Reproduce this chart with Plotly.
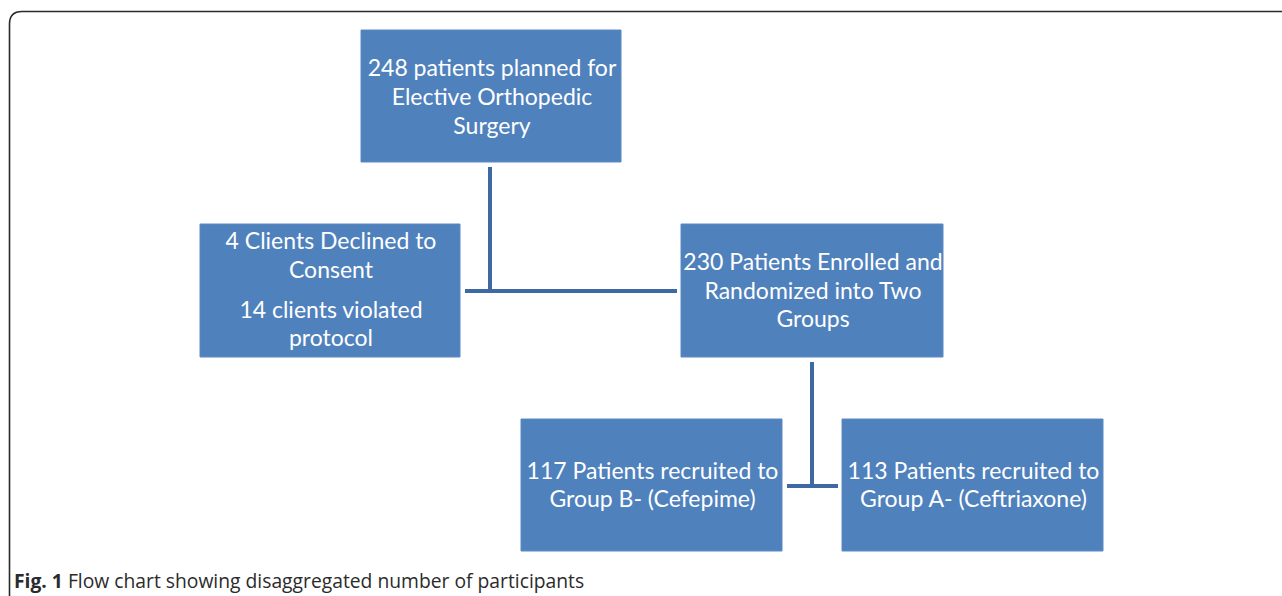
import plotly.graph_objects as go

# ---- content ----
box_labels = [
    ["248 patients planned for", "Elective Orthopedic", "Surgery"],
    ["4 Clients Declined to", "Consent", "14 clients violated", "protocol"],
    ["230 Patients Enrolled and", "Randomized into Two", "Groups"],
    ["117 Patients recruited to", "Group B- (Cefepime)"],
    ["113 Patients recruited to", "Group A- (Ceftriaxone)"],
]
caption_bold = "Fig. 1"
caption_text = "Flow chart showing disaggregated number of participants"

# ---- layout (pixel-space coordinates) ----
W, H = 1282, 596
box_rects = [  # x0, x1, y0, y1
    (361, 621, 30, 162),
    (200, 460, 224, 357),
    (681, 943, 224, 357),
    (521, 782, 419, 551),
    (842, 1103, 419, 551),
]
line_ys = [
    [70, 99, 128],
    [243, 272, 312, 340],
    [264, 293, 321],
    [473, 501],
    [473, 501],
]
connectors = [  # (x0, y0, x1, y1)
    (490, 167, 490, 291),
    (465, 291, 677, 291),
    (812, 362, 812, 486),
    (787, 486, 838, 486),
]

BOX_FILL = "#4F81BD"
LINE_COL = "#3F69A3"

fig = go.Figure()
shapes = []
for (x0, x1, y0, y1) in box_rects:
    shapes.append(dict(type="rect", xref="x", yref="y", x0=x0, x1=x1, y0=y0, y1=y1,
                       fillcolor=BOX_FILL, line=dict(color="#5B8AC4", width=1), layer="below"))
for (x0, y0, x1, y1) in connectors:
    shapes.append(dict(type="line", xref="x", yref="y", x0=x0, y0=y0, x1=x1, y1=y1,
                       line=dict(color=LINE_COL, width=4)))
# frame: top + left border with rounded corner
shapes.append(dict(type="path", xref="x", yref="y",
                   path="M 9.5,600 L 9.5,24 Q 9.5,11.5 22,11.5 L 1290,11.5",
                   line=dict(color="#2a2a2a", width=1.6)))

xs, ys, ts = [], [], []
for rect, labels, yl in zip(box_rects, box_labels, line_ys):
    cx = (rect[0] + rect[1]) / 2
    for t, y in zip(labels, yl):
        xs.append(cx + 1)
        ys.append(y)
        ts.append(t)
fig.add_trace(go.Scatter(x=xs, y=ys, text=ts, mode="text",
                         textfont=dict(family="Lato", size=23, color="white"),
                         hoverinfo="skip", showlegend=False))

fig.add_annotation(x=12, y=580, xref="x", yref="y", xanchor="left", yanchor="middle",
                   text=f"<b>{caption_bold}</b> {caption_text}", showarrow=False,
                   font=dict(family="Open Sans", size=19.3, color="#2b2b2b"))

fig.update_layout(
    width=W, height=H,
    margin=dict(l=0, r=0, t=0, b=0),
    paper_bgcolor="white", plot_bgcolor="white",
    shapes=shapes,
    xaxis=dict(range=[0, W], visible=False, fixedrange=True),
    yaxis=dict(range=[H, 0], visible=False, fixedrange=True),
)

fig.write_html("out.html", config={"displayModeBar": False},
               post_script="document.body.style.margin='0';document.body.style.overflow='hidden';")
